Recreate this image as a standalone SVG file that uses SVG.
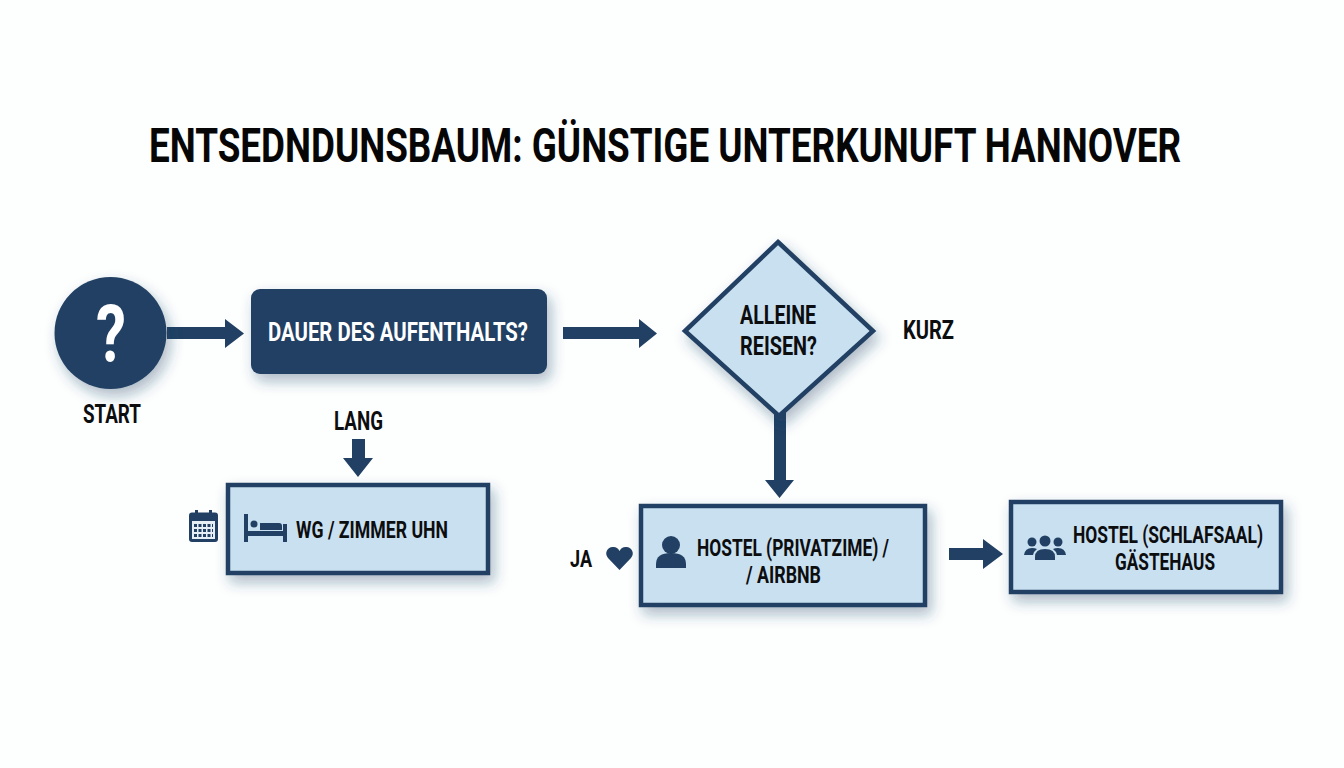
<svg xmlns="http://www.w3.org/2000/svg" width="1344" height="768" viewBox="0 0 1344 768">
<style>
text{font-family:Roboto,"Liberation Sans",Arial,sans-serif;font-weight:700;fill:#0c0d0f;font-size:24px}
.title{font-size:48px;fill:#060606}
.lbl{font-size:25px}
.box{fill:#c9e0f0;stroke:#214063;stroke-width:4.500;filter:url(#sh)}
.ico{fill:#214063}
.icl{fill:none;stroke:#214063}
.arr{fill:#214063}
</style>
<defs>
<filter id="sh" x="-15%" y="-20%" width="130%" height="150%"><feDropShadow dx="4" dy="7" stdDeviation="7" flood-color="#214063" flood-opacity="0.36"/></filter>
</defs>
<rect width="1344" height="768" fill="#fdfefe"/>
<text class="title" transform="translate(149 162) scale(0.75 1)" x="0" y="0" textLength="1376" lengthAdjust="spacingAndGlyphs">ENTSEDNDUNSBAUM: GÜNSTIGE UNTERKUNUFT HANNOVER</text>
<g id="connectors">
<path class="arr" d="M167 327H225V319L244 333.500L225 348V339H167Z"/>
<path class="arr" d="M563 327H639V319L657 333.500L639 348V339H563Z"/>
<path class="arr" d="M352 439H365V458H373L358 477L343 458H352Z"/>
<path class="arr" d="M774 410H786V480H794L779.500 498L765 480H774Z"/>
<path class="arr" d="M949 548H983V539L1003 554L983 569V560H949Z"/>
</g>
<g id="start">
<circle cx="110.500" cy="333" r="56" fill="#214063" filter="url(#sh)"/>
<text x="96" y="362" style="font-size:79px;fill:#fff" textLength="30" lengthAdjust="spacingAndGlyphs">?</text>
<text class="lbl" x="83" y="423" textLength="58" lengthAdjust="spacingAndGlyphs">START</text>
</g>
<g id="dauer">
<rect x="251" y="289" width="296" height="85" rx="9" fill="#214063" filter="url(#sh)"/>
<text class="lbl" x="268" y="341" style="fill:#fff" textLength="260" lengthAdjust="spacingAndGlyphs">DAUER DES AUFENTHALTS?</text>
</g>
<g id="alleine">
<path class="box" d="M778 242L873 331L779 416L685 331Z"/>
<text class="lbl" x="740" y="324" textLength="76" lengthAdjust="spacingAndGlyphs">ALLEINE</text>
<text class="lbl" x="740" y="355" textLength="77" lengthAdjust="spacingAndGlyphs">REISEN?</text>
</g>
<g id="kurz"><text class="lbl" x="903" y="339" textLength="51" lengthAdjust="spacingAndGlyphs">KURZ</text></g>
<g id="lang"><text class="lbl" x="334" y="430" textLength="49" lengthAdjust="spacingAndGlyphs">LANG</text></g>
<g id="wg">
<rect class="box" x="228" y="485" width="260" height="88"/>
<g>
<path class="ico" d="M244 514h4v17h35v-7h4v18h-4v-6h-35v6h-4Z"/>
<circle class="ico" cx="254" cy="524" r="3.500"/>
<path class="ico" d="M260 523h19q3 0 3 3v4h-22Z"/>
</g>
<text x="296" y="538" textLength="152" lengthAdjust="spacingAndGlyphs">WG / ZIMMER UHN</text>
</g>
<g id="kalender">
<rect class="ico" x="189" y="512.500" width="29" height="29.500" rx="3"/>
<rect class="ico" x="195" y="510" width="3" height="6"/><rect class="ico" x="209" y="510" width="3" height="6"/>
<rect x="192" y="521" width="23" height="18" fill="#e6eff6"/>
<path class="icl" stroke-width="3" stroke-dasharray="3 1.500" d="M194 525.500H213M194 530.500H213M194 535.500H213"/>
</g>
<g id="hostel">
<rect class="box" x="641" y="506" width="284" height="99"/>
<circle class="ico" cx="671" cy="545" r="9"/>
<path class="ico" d="M656 568v-4q0-11 15-11t15 11v4Z"/>
<text x="697" y="556" textLength="192" lengthAdjust="spacingAndGlyphs">HOSTEL (PRIVATZIME) /</text>
<text x="746" y="583" textLength="75" lengthAdjust="spacingAndGlyphs">/ AIRBNB</text>
</g>
<g id="ja">
<text x="570" y="567" textLength="22" lengthAdjust="spacingAndGlyphs">JA</text>
<path class="ico" d="M619.500 570L608 558q-3-4-1-7.500 2-4 6.500-3.500 4 0 6 4 2-4 6-4 4.500-.5 6.500 3.500 2 3.500-1 7.500Z"/>
</g>
<g id="schlafsaal">
<rect class="box" x="1011" y="502" width="270" height="90"/>
<g>
<circle class="ico" cx="1032" cy="542" r="4.500"/><circle class="ico" cx="1058" cy="542" r="4.500"/>
<path class="ico" d="M1024 555q1-7 8-7 3 0 5 1-3 2-4 6ZM1066 555q-1-7-8-7-3 0-5 1 3 2 4 6Z"/>
<circle class="ico" cx="1045" cy="541" r="5.500"/>
<path class="ico" d="M1035 560v-3q0-8 10-8t10 8v3Z"/>
</g>
<text x="1073" y="543" textLength="190" lengthAdjust="spacingAndGlyphs">HOSTEL (SCHLAFSAAL)</text>
<text x="1115" y="570" textLength="100" lengthAdjust="spacingAndGlyphs">GÄSTEHAUS</text>
</g>
</svg>
